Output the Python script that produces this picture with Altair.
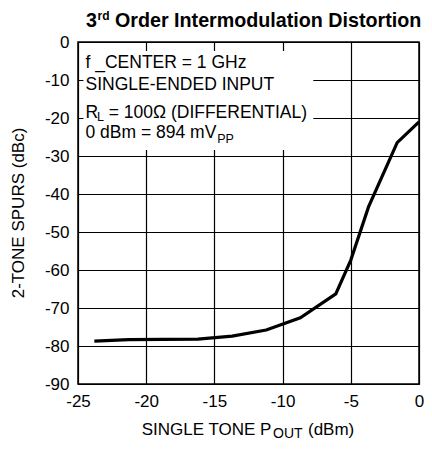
import altair as alt
import pandas as pd

# Curve data
pout = [-23.8, -21.3, -16.2, -13.7, -11.2, -8.7, -6.1, -5.0, -3.7, -1.6, 0.0]
spurs = [-78.7, -78.3, -78.2, -77.4, -75.8, -72.6, -66.3, -57.4, -43.4, -26.5, -21.0]

x_ticks = [-25, -20, -15, -10, -5, 0]
y_ticks = [0, -10, -20, -30, -40, -50, -60, -70, -80, -90]

# annotation box (white background) extents in data units
box_x = [-24.6]
box_x2 = [-7.75]
box_y = [-2.4]
box_y2 = [-28.4]

# annotation texts (data coordinates)
ann_text = ["f _CENTER = 1 GHz", "SINGLE-ENDED INPUT", "R", "= 100\u03a9 (DIFFERENTIAL)", "0 dBm = 894 mV"]
ann_x = [-24.45, -24.45, -24.45, -22.75, -24.45]
ann_y = [-6.76, -12.63, -19.92, -19.92, -25.34]
sub_text = ["L", "PP"]
sub_x = [-23.6, -14.8]
sub_y = [-20.9, -26.66]

# titles
title_text = ["3", "rd", "Order Intermodulation Distortion"]
xtitle_text = ["SINGLE TONE P", "OUT", "(dBm)"]
ytitle_text = "2-TONE SPURS (dBc)"

FONT = "Liberation Sans"
W, H = 341, 342

df = pd.DataFrame({"x": pout, "y": spurs})
box = pd.DataFrame({"x": box_x, "x2": box_x2, "y": box_y, "y2": box_y2})
ann = pd.DataFrame({"t": ann_text, "x": ann_x, "y": ann_y})
sub = pd.DataFrame({"t": sub_text, "x": sub_x, "y": sub_y})

xs = alt.Scale(domain=[-25, 0], nice=False, zero=False)
ys = alt.Scale(domain=[-90, 0], nice=False, zero=False)

def xaxis():
    return alt.Axis(values=x_ticks, title=None, grid=True, gridColor="black", gridWidth=1.2,
                    gridOpacity=1, domain=False, ticks=False, labelFont=FONT, labelFontSize=17,
                    labelColor="black", labelPadding=9, labelExpr="'' + datum.value",
                    labelOverlap=False, labelFlush=False, labelBound=False)

def yaxis():
    return alt.Axis(values=y_ticks, title=None, grid=True, gridColor="black", gridWidth=1.2,
                    gridOpacity=1, domain=False, ticks=False, labelFont=FONT, labelFontSize=17,
                    labelColor="black", labelPadding=9, labelExpr="'' + datum.value",
                    labelOverlap=False, labelBound=False)

line = alt.Chart(df).mark_line(color="black", strokeWidth=3.2, clip=False).encode(
    x=alt.X("x:Q", scale=xs, axis=xaxis()),
    y=alt.Y("y:Q", scale=ys, axis=yaxis()),
)

rect = alt.Chart(box).mark_rect(fill="white").encode(
    x=alt.X("x:Q", scale=xs, axis=xaxis()), x2="x2:Q",
    y=alt.Y("y:Q", scale=ys, axis=yaxis()), y2="y2:Q",
)

ann_m = alt.Chart(ann).mark_text(align="left", baseline="alphabetic", font=FONT,
                                  fontSize=17.5, color="black").encode(
    x=alt.X("x:Q", scale=xs, axis=xaxis()), y=alt.Y("y:Q", scale=ys, axis=yaxis()), text="t:N")

sub_m = alt.Chart(sub).mark_text(align="left", baseline="alphabetic", font=FONT,
                                  fontSize=12.5, color="black").encode(
    x=alt.X("x:Q", scale=xs, axis=xaxis()), y=alt.Y("y:Q", scale=ys, axis=yaxis()), text="t:N")


def label(text, px, py, size, bold=False, angle=0, align="left", baseline="alphabetic"):
    kw = dict(align=align, baseline=baseline, font=FONT, fontSize=size, color="black")
    if bold:
        kw["fontWeight"] = "bold"
    if angle:
        kw["angle"] = angle
    return alt.Chart(pd.DataFrame({"t": [text]})).mark_text(**kw).encode(
        x=alt.value(px), y=alt.value(py), text="t:N")

# pixel positions relative to the plot area's top-left corner
t1 = label(title_text[0], 8, -15, 19.7, bold=True)
t2 = label(title_text[1], 19.5, -22, 12, bold=True)
t3 = label(title_text[2], 37, -15, 19.7, bold=True)
x1 = label(xtitle_text[0], 63.7, 393, 17)
x2 = label(xtitle_text[1], 195, 396, 14)
x3 = label(xtitle_text[2], 230, 393, 17)
y1 = label(ytitle_text, -59.5, 171, 17, angle=270, align="center", baseline="middle")

chart = alt.layer(line, rect, ann_m, sub_m, t1, t2, t3, x1, x2, x3, y1).properties(
    width=W, height=H,
    autosize=alt.AutoSizeParams(type="none"),
    padding={"left": 70, "top": 34, "right": 5, "bottom": 57},
).configure(background="white").configure_view(stroke="black", strokeWidth=1.5)

chart.save("out.html", embed_options={"renderer": "svg", "actions": False})
